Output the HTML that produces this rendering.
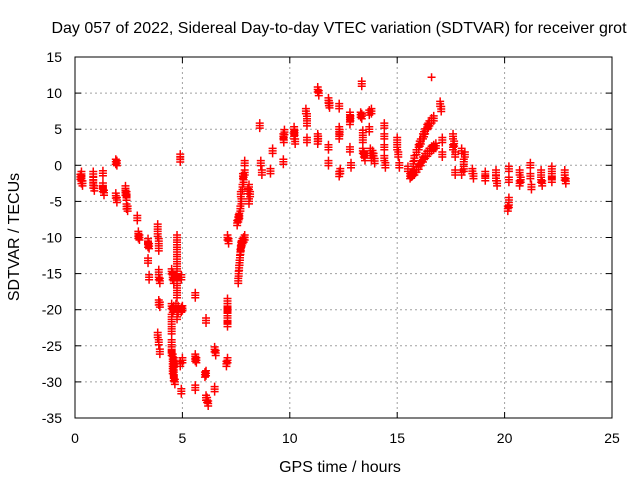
<!DOCTYPE html>
<html><head><meta charset="utf-8"><style>
body{margin:0;background:#fff}
svg{display:block;font-family:"Liberation Sans",sans-serif}
</style></head><body>
<svg id="chart" width="640" height="480" viewBox="0 0 640 480">
<rect width="640" height="480" fill="#fff"/>
<text x="339" y="33" font-size="16" text-anchor="middle">Day 057 of 2022, Sidereal Day-to-day VTEC variation (SDTVAR) for receiver grot</text>
<g id="grid"></g>
<g id="axes"></g>
<g id="points"></g>
<rect x="75" y="57" width="537" height="361" fill="none" stroke="#000" stroke-width="1"/>
<text transform="translate(19,237) rotate(-90)" font-size="16" text-anchor="middle">SDTVAR / TECUs</text>
<text x="340" y="472" font-size="16" text-anchor="middle">GPS time / hours</text>
</svg>
<script>
const xTicks=[0,5,10,15,20,25];
const yTicks=[15,10,5,0,-5,-10,-15,-20,-25,-30,-35];
const xs=[0.3,0.3,0.3,0.35,0.25,0.85,0.85,0.85,0.9,0.85,1.3,1.3,1.35,1.3,1.9,1.95,1.9,1.95,2.35,2.35,2.4,2.4,2.45,2.4,2.9,2.95,3.0,2.95,3.4,3.45,3.4,3.45,3.4,
3.85,3.85,3.9,3.9,3.9,3.95,3.9,3.95,3.85,3.9,3.95,3.9,
4.5,4.55,4.6,4.5,4.55,4.5,4.5,4.5,4.5,4.55,4.55,4.6,4.6,4.65,4.6,4.55,4.5,4.6,4.55,4.5,4.6,4.7,
4.75,4.75,4.75,4.75,4.75,4.75,4.75,4.75,4.75,4.8,4.8,4.75,
4.9,4.9,4.95,4.95,4.9,5.0,4.95,5.0,
5.6,5.6,5.65,5.6,5.6,6.1,6.05,6.1,6.15,6.2,6.1,6.5,6.55,6.5,
7.1,7.15,7.1,7.1,7.1,7.1,7.1,7.05,7.1,7.1,
7.6,7.62,7.64,7.66,7.68,7.7,7.72,7.74,7.76,7.8,7.85,7.9,
7.55,7.6,7.65,7.7,7.75,7.8,7.85,7.9,7.62,7.72,7.82,7.9,
8.1,8.15,8.1,8.05,8.6,8.65,8.7,9.2,9.1,9.7,9.75,9.7,9.72,10.2,10.2,10.25,10.22,
10.75,10.8,10.8,10.8,11.3,11.35,11.3,11.3,11.32,11.8,11.85,11.8,11.8,11.82,
12.3,12.3,12.3,12.35,12.3,12.32,12.8,12.8,12.8,12.85,12.82,
13.35,13.3,13.35,13.4,13.4,13.4,13.5,13.45,13.7,13.8,13.7,13.75,13.8,13.9,13.85,13.95,
14.4,14.4,14.4,14.4,14.45,15,15,15.05,15.1,
15.8,15.9,16.0,16.1,16.2,16.3,16.4,16.5,16.6,16.7,16.05,16.25,16.45,
15.6,15.7,15.8,15.9,16.0,16.1,16.2,16.3,16.4,16.5,16.6,16.7,16.8,15.5,15.65,15.75,
16.6,17.0,17.05,17.1,17.1,17.6,17.65,17.6,17.7,17.7,18.0,18.1,18.1,18.0,18.15,
18.5,18.55,19.1,19.1,19.6,19.6,19.65,20.2,20.2,20.2,20.2,20.15,20.7,20.75,20.7,
21.2,21.2,21.25,21.7,21.7,21.75,22.2,22.2,22.2,22.8,22.8,22.85];
const ys=[-1.2,-1.8,-2.2,-2.5,-1.6,-1.2,-2.0,-2.8,-3.2,-2.4,-1.1,-2.8,-3.8,-3.3,0.5,0.3,-4.2,-4.8,-3.2,-3.8,-4.5,-5.7,-6.0,-4.0,-7.3,-9.5,-10.0,-9.8,-10.5,-11.2,-13.2,-15.5,-11.0,
-8.5,-9.5,-10.5,-11.5,-14.8,-16.0,-19.0,-19.3,-23.5,-24.5,-25.8,-15.5,
-14.7,-15.5,-16.0,-19.5,-20.0,-22.0,-23.0,-24.5,-25.5,-26.5,-27.5,-28.0,-29.5,-30.0,-27.0,-28.5,-26.0,-19.8,-15.2,-21.0,-29.0,-19.5,
-10.0,-11.0,-12.0,-13.0,-14.0,-15.0,-16.0,-17.0,-18.0,-19.8,-20.0,-21.0,
1.2,0.8,-15.5,-20.0,-27.5,-27.0,-31.3,-19.8,
-18.0,-26.5,-27.0,-30.8,-26.8,-21.5,-29.0,-28.8,-32.5,-33.0,-32.2,-25.5,-26.0,-31.0,
-10.0,-10.5,-18.8,-19.5,-20.5,-21.5,-22.0,-27.5,-27.0,-20.0,
-16.0,-15.0,-14.2,-13.5,-12.8,-12.0,-11.5,-11.0,-10.8,-10.5,-10.3,-10.0,
-8.0,-7.5,-7.0,-6.0,-5.0,-3.0,-2.0,-1.0,-7.2,-4.0,-1.5,0.3,
-3.0,-4.0,-5.0,-3.6,5.5,0.3,-1.0,2.0,-0.8,4.0,4.6,0.5,3.5,5.0,4.0,3.3,4.5,
7.5,6.8,5.8,3.5,10.5,10.0,4.0,3.3,3.7,9.0,8.3,2.5,0.3,8.6,
8.2,5.0,4.0,-0.8,-1.2,4.6,7.0,6.0,2.2,0.0,6.5,
11.3,7.0,6.8,4.5,3.5,2.0,1.0,1.5,7.3,7.5,5.0,2.0,1.0,1.3,1.7,0.6,
5.5,4.0,2.5,1.0,0.0,3.5,2.5,1.5,0.0,
1.0,1.8,2.5,3.3,4.0,4.7,5.3,5.8,6.2,6.5,3.0,4.3,5.5,
-1.5,-1.2,-1.0,-0.6,-0.2,0.3,0.8,1.3,1.6,2.0,2.3,2.5,2.7,-0.5,-1.3,0.2,
12.2,8.5,7.8,3.5,1.5,4.0,3.0,2.5,1.5,-1.0,2.0,0.5,-0.5,-1.0,1.5,
-0.8,-1.5,-1.2,-1.8,-1.0,-1.8,-2.5,-0.5,-2.0,-4.8,-5.5,-6.0,-1.0,-2.0,-2.5,
0.0,-1.5,-3.0,-1.0,-2.0,-2.5,-0.5,-1.5,-2.0,-1.0,-1.7,-2.2];
const X0=75,X1=612,Y0=418,Y1=57;
const sx=v=>X0+(v-0)/(25-0)*(X1-X0);
const sy=v=>Y0-(v-(-35))/(15-(-35))*(Y0-Y1);
const NS="http://www.w3.org/2000/svg";
const grid=document.getElementById('grid'),axes=document.getElementById('axes'),pts=document.getElementById('points');
xTicks.forEach(t=>{
 const x=sx(t);
 if(t>0&&t<25){const l=document.createElementNS(NS,'line');
 
 
 l.setAttribute('x1',x);l.setAttribute('x2',x);l.setAttribute('y1',Y1);l.setAttribute('y2',Y0);
 l.setAttribute('stroke','#a0a0a0');l.setAttribute('stroke-dasharray','2,3');grid.appendChild(l);}
 [[Y0,Y0-6],[Y1,Y1+6]].forEach(p=>{const k=document.createElementNS(NS,'line');
 
 
 k.setAttribute('x1',x);k.setAttribute('x2',x);k.setAttribute('y1',p[0]);k.setAttribute('y2',p[1]);k.setAttribute('stroke','#000');axes.appendChild(k);});
 const tx=document.createElementNS(NS,'text');
 
 
 tx.setAttribute('x',x);tx.setAttribute('y',443);tx.setAttribute('font-size','14');tx.setAttribute('text-anchor','middle');tx.textContent=t;axes.appendChild(tx);
});
yTicks.forEach(t=>{
 const y=sy(t);
 if(t<15&&t>-35){const l=document.createElementNS(NS,'line');
 
 
 l.setAttribute('x1',X0);l.setAttribute('x2',X1);l.setAttribute('y1',y);l.setAttribute('y2',y);
 l.setAttribute('stroke','#a0a0a0');l.setAttribute('stroke-dasharray','2,3');grid.appendChild(l);}
 [[X0,X0+6],[X1,X1-6]].forEach(p=>{const k=document.createElementNS(NS,'line');
 
 
 k.setAttribute('x1',p[0]);k.setAttribute('x2',p[1]);k.setAttribute('y1',y);k.setAttribute('y2',y);k.setAttribute('stroke','#000');axes.appendChild(k);});
 const tx=document.createElementNS(NS,'text');
 
 
 tx.setAttribute('x',62);tx.setAttribute('y',y+5);tx.setAttribute('font-size','14');tx.setAttribute('text-anchor','end');tx.textContent=t;axes.appendChild(tx);
});
let d='';
for(let i=0;i<xs.length;i++){
 const x=sx(xs[i]),y=sy(ys[i]);
 const reps=(ys[i]>12)?[0]:[-1,0,1];
 for(const j of reps){const yy=y+j*2.5;d+=`M${x-4},${yy}h8M${x},${yy-4}v8`;}
}
const p=document.createElementNS(NS,'path');


p.setAttribute('d',d);p.setAttribute('stroke','#f00');p.setAttribute('stroke-width','1.5');p.setAttribute('fill','none');
pts.appendChild(p);
</script>
</body></html>
